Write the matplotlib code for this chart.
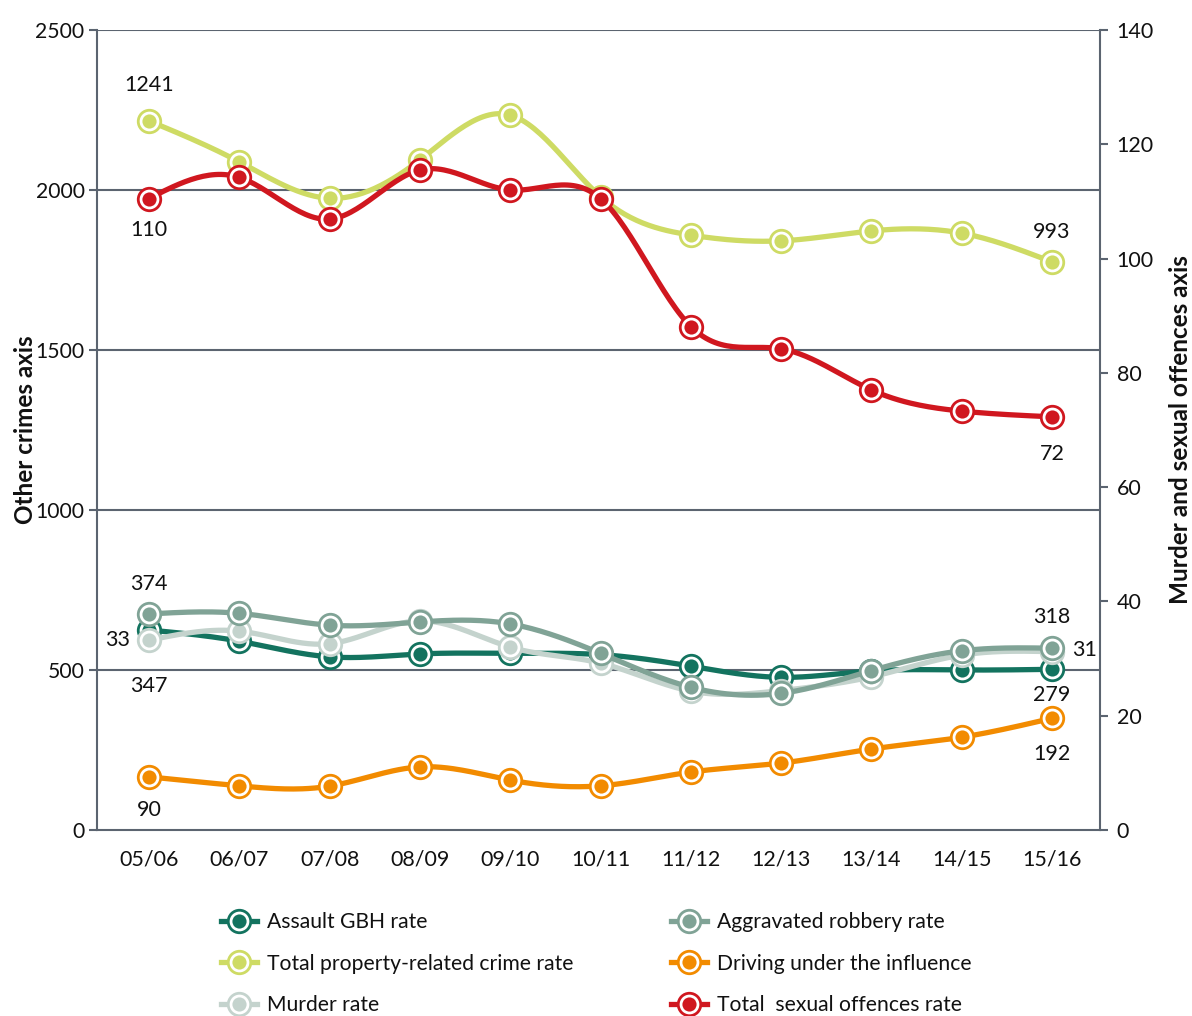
import numpy as np
import matplotlib
matplotlib.use("Agg")
import matplotlib.pyplot as plt
from matplotlib.lines import Line2D

plt.rcParams['font.family'] = ['Lato', 'DejaVu Sans']

# ---------------- data ----------------
years = ["05/06", "06/07", "07/08", "08/09", "09/10", "10/11",
         "11/12", "12/13", "13/14", "14/15", "15/16"]

# plotted on the left axis ("Other crimes axis")
assault_gbh = [625, 590, 541, 550, 552, 548, 512, 477, 497, 500, 502]
aggravated_robbery = [675, 677, 640, 650, 644, 552, 446, 427, 498, 560, 568]
property_crime = [2216, 2088, 1974, 2094, 2234, 1979, 1859, 1841, 1872, 1865, 1775]
driving_influence = [166, 138, 137, 197, 156, 138, 181, 209, 253, 290, 349]

# plotted on the right axis ("Murder and sexual offences axis")
murder = [33.2, 34.8, 32.6, 36.6, 32.0, 29.2, 24.3, 24.4, 26.8, 30.6, 31.2]
sexual_offences = [110.5, 114.2, 106.9, 115.5, 112.0, 110.5, 88.1, 84.2, 77.0, 73.3, 72.3]

left_ticks = [0, 500, 1000, 1500, 2000, 2500]
right_ticks = [0, 20, 40, 60, 80, 100, 120, 140]

# data labels: (series key, index, text, offset px)
data_labels = [
    ("property", 0, "1241", (0, 36)),
    ("sexual", 0, "110", (0, -31)),
    ("property", 10, "993", (0, 30)),
    ("sexual", 10, "72", (0, -37)),
    ("robbery", 0, "374", (0, 30)),
    ("murder", 0, "33", (-31, 0)),
    ("assault", 0, "347", (0, -56)),
    ("driving", 0, "90", (0, -33)),
    ("robbery", 10, "318", (0, 31)),
    ("murder", 10, "31", (32, 2)),
    ("assault", 10, "279", (0, -26)),
    ("driving", 10, "192", (0, -36)),
]

colors = {
    "assault": "#13735f",
    "robbery": "#80a396",
    "property": "#cedb64",
    "driving": "#f28b00",
    "murder": "#c4d3cd",
    "sexual": "#d0171f",
}
names = {
    "assault": "Assault GBH rate",
    "property": "Total property-related crime rate",
    "murder": "Murder rate",
    "robbery": "Aggravated robbery rate",
    "driving": "Driving under the influence",
    "sexual": "Total  sexual offences rate",
}


def natural_spline(x, y, n=30):
    x = np.asarray(x, float)
    y = np.asarray(y, float)
    k = len(x)
    h = np.diff(x)
    A = np.zeros((k, k))
    r = np.zeros(k)
    A[0, 0] = 1
    A[-1, -1] = 1
    for i in range(1, k - 1):
        A[i, i - 1] = h[i - 1]
        A[i, i] = 2 * (h[i - 1] + h[i])
        A[i, i + 1] = h[i]
        r[i] = 6 * ((y[i + 1] - y[i]) / h[i] - (y[i] - y[i - 1]) / h[i - 1])
    M = np.linalg.solve(A, r)
    xs, ys = [], []
    for i in range(k - 1):
        t = np.linspace(x[i], x[i + 1], n, endpoint=(i == k - 2))
        a = x[i + 1] - t
        b = t - x[i]
        s = (M[i] * a ** 3 + M[i + 1] * b ** 3) / (6 * h[i]) \
            + (y[i] / h[i] - M[i] * h[i] / 6) * a \
            + (y[i + 1] / h[i] - M[i + 1] * h[i] / 6) * b
        xs.append(t)
        ys.append(s)
    return np.concatenate(xs), np.concatenate(ys)


fig = plt.figure(figsize=(11.92, 10.16), dpi=100)
ax1 = fig.add_axes([0.0814, 0.1831, 0.8414, 0.7874])
ax2 = ax1.twinx()

ax1.set_xlim(-0.575, 10.53)
ax1.set_ylim(0, 2500)
ax2.set_ylim(0, 140)

grid_c = "#5b6470"
x = np.arange(len(years))

series = {
    "assault": (assault_gbh, ax1),
    "property": (property_crime, ax1),
    "murder": (murder, ax2),
    "robbery": (aggravated_robbery, ax1),
    "driving": (driving_influence, ax1),
    "sexual": (sexual_offences, ax2),
}
order = ["assault", "property", "murder", "robbery", "driving", "sexual"]

LW = 3.8
MS_OUT = 16.2
MEW = 2.0
MS_IN = 10.2

handles = {}
for zi, key in enumerate(order):
    vals, ax = series[key]
    tr = ax.transData
    c = colors[key]
    z = 3 + zi
    xs, ys = natural_spline(x, vals)
    ax1.plot(xs, ys, color=c, lw=LW, transform=tr, zorder=z,
             solid_capstyle='round', solid_joinstyle='round')
    ax1.plot(x, vals, ls='none', marker='o', ms=MS_OUT, mfc='white',
             mec=c, mew=MEW, transform=tr, zorder=z)
    ax1.plot(x, vals, ls='none', marker='o', ms=MS_IN, mfc=c,
             mec='none', transform=tr, zorder=z)
    h1 = Line2D([], [], color=c, lw=LW, marker='o', ms=MS_OUT, mfc='white',
                mec=c, mew=MEW)
    h2 = Line2D([], [], ls='none', marker='o', ms=MS_IN, mfc=c, mec='none')
    handles[key] = (h1, h2)

for key, idx, txt, off in data_labels:
    vals, ax = series[key]
    ax1.annotate(txt, xy=(x[idx], vals[idx]), xycoords=ax.transData,
                 xytext=off, textcoords='offset pixels', ha='center',
                 va='center', fontsize=15.5, color='#111111', zorder=20)

# grid & axes
for v in left_ticks[1:]:
    ax1.axhline(v, color=grid_c, lw=1.5, zorder=1)
for sp in ['top']:
    ax1.spines[sp].set_visible(False)
    ax2.spines[sp].set_visible(False)
ax2.spines['left'].set_visible(False)
ax2.spines['bottom'].set_visible(False)
for sp in ['left', 'bottom']:
    ax1.spines[sp].set_color(grid_c)
    ax1.spines[sp].set_linewidth(1.5)
ax1.spines['right'].set_visible(False)
ax2.spines['right'].set_color(grid_c)
ax2.spines['right'].set_linewidth(1.5)

ax1.set_yticks(left_ticks)
ax1.set_yticklabels([str(v) for v in left_ticks])
ax2.set_yticks(right_ticks)
ax2.set_yticklabels([str(v) for v in right_ticks])
ax1.set_xticks(x)
ax1.set_xticklabels(years)
ax1.tick_params(axis='y', length=6, width=1.5, color=grid_c, pad=3,
                labelsize=15.2, labelcolor='#111111')
ax2.tick_params(axis='y', length=6, width=1.5, color=grid_c, pad=6,
                labelsize=15.5, labelcolor='#111111')
ax1.tick_params(axis='x', length=0, pad=14, labelsize=15.5,
                labelcolor='#111111')

ax1.set_ylabel("Other crimes axis", fontsize=17.5, fontweight='bold',
               color='#111111', labelpad=-1)
ax2.set_ylabel("Murder and sexual offences axis", fontsize=17.5,
               fontweight='bold', color='#111111', labelpad=11,
               rotation=90)

# legends (two columns, placed separately)
col1 = ["assault", "property", "murder"]
col2 = ["robbery", "driving", "sexual"]
for cols, xa in [(col1, 0.1694), (col2, 0.5470)]:
    fig.legend([handles[k] for k in cols], [names[k] for k in cols],
               loc='upper left', bbox_to_anchor=(xa, 0.1211),
               frameon=False, fontsize=15.2, handlelength=1.7,
               handletextpad=0.5, labelspacing=1.03, numpoints=1,
               borderpad=0.4, labelcolor='#111111')

fig.savefig("out.png", dpi=100)
